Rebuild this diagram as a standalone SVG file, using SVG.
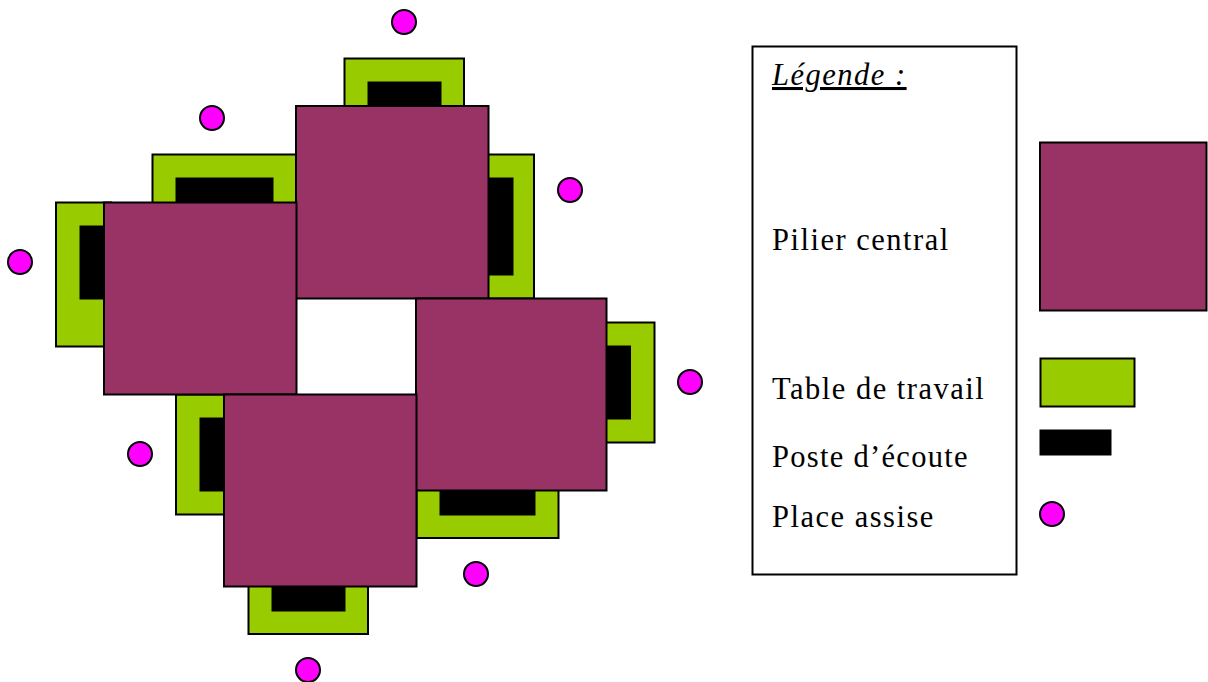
<svg xmlns="http://www.w3.org/2000/svg" width="1208" height="682" viewBox="0 0 1208 682">
<style>
.p{fill:#993366;stroke:#000;stroke-width:2}
.t{fill:#99cc00;stroke:#000;stroke-width:2}
.b{fill:#000;stroke:#000;stroke-width:1}
.s{fill:#ff00ff;stroke:#000;stroke-width:2}
.l{font-family:"Liberation Serif","Times New Roman",serif;font-size:30.500px;letter-spacing:1.5px;fill:#000}
</style>
<rect width="1208" height="682" fill="#fff"/>
<g id="table-top"><rect class="t" x="344.500" y="58.500" width="119.500" height="60"/><rect class="b" x="368" y="82" width="73" height="30"/></g>
<g id="table-upper-left"><rect class="t" x="152.500" y="154.500" width="156" height="60"/><rect class="b" x="176" y="178" width="97" height="30"/></g>
<g id="table-upper-right"><rect class="t" x="474" y="154.500" width="60" height="144"/><rect class="b" x="482" y="178" width="31" height="97"/></g>
<g id="table-left"><rect class="t" x="56" y="202.500" width="55" height="144"/><rect class="b" x="80" y="226" width="30" height="73"/></g>
<g id="table-right"><rect class="t" x="595" y="322.500" width="59.500" height="120"/><rect class="b" x="600" y="346" width="30.500" height="73"/></g>
<g id="table-lower-left"><rect class="t" x="176" y="394.500" width="60" height="120"/><rect class="b" x="200" y="418" width="30" height="73"/></g>
<g id="table-lower-right"><rect class="t" x="416.500" y="478" width="142" height="60"/><rect class="b" x="440" y="484" width="95" height="31"/></g>
<g id="table-bottom"><rect class="t" x="248.500" y="574" width="119.500" height="60"/><rect class="b" x="272" y="580" width="73" height="31"/></g>
<g id="pilier-top"><rect class="p" x="296" y="106" width="192.500" height="192.500"/></g>
<g id="pilier-left"><rect class="p" x="104" y="202.500" width="192.500" height="192"/></g>
<g id="pilier-right"><rect class="p" x="416" y="298.500" width="190.500" height="192"/></g>
<g id="pilier-bottom"><rect class="p" x="224" y="394.500" width="192.500" height="192"/></g>
<g id="place-1"><circle class="s" cx="404" cy="22" r="12"/></g>
<g id="place-2"><circle class="s" cx="212" cy="118" r="12"/></g>
<g id="place-3"><circle class="s" cx="570" cy="190" r="12"/></g>
<g id="place-4"><circle class="s" cx="20" cy="262" r="12"/></g>
<g id="place-5"><circle class="s" cx="690" cy="382" r="12"/></g>
<g id="place-6"><circle class="s" cx="140" cy="454" r="12"/></g>
<g id="place-7"><circle class="s" cx="476" cy="574" r="12"/></g>
<g id="place-8"><circle class="s" cx="308" cy="670" r="12"/></g>
<g id="legende">
<rect x="752.500" y="46.500" width="264" height="528" fill="#fff" stroke="#000" stroke-width="2"/>
<text class="l" x="772" y="85" font-style="italic" text-decoration="underline">Légende :</text>
<text class="l" x="772" y="250">Pilier central</text>
<text class="l" x="772" y="399">Table de travail</text>
<text class="l" x="772" y="467" style="letter-spacing:1.3px">Poste d’écoute</text>
<text class="l" x="772" y="527">Place assise</text>
<rect class="p" x="1040" y="142.500" width="166.500" height="168"/>
<rect class="t" x="1040.500" y="358.500" width="94" height="48"/>
<rect class="b" x="1040" y="430" width="71" height="25"/>
<circle class="s" cx="1052" cy="514" r="12"/>
</g>
</svg>
